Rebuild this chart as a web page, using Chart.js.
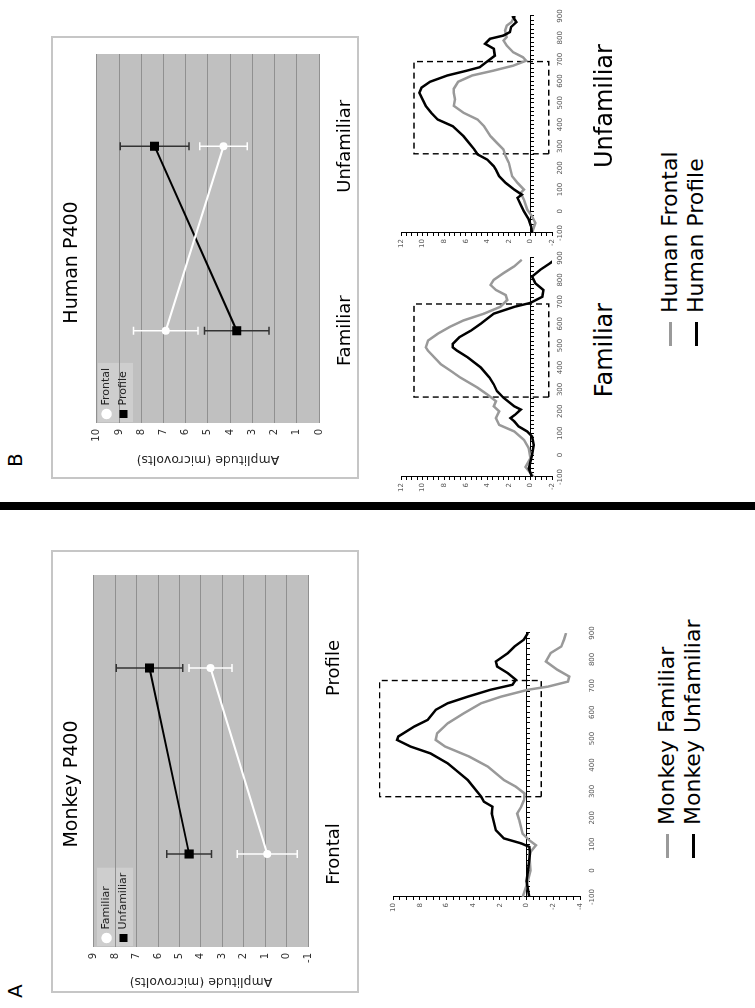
<!DOCTYPE html>
<html>
<head>
<meta charset="utf-8">
<script src="https://cdn.jsdelivr.net/npm/chart.js@4.4.1/dist/chart.umd.min.js"></script>
<style>
html,body{margin:0;padding:0;background:#fff;width:755px;height:1008px;overflow:hidden;}
#stage{position:absolute;left:0;top:0;width:1008px;height:755px;transform-origin:0 0;transform:translate(0,1008px) rotate(-90deg);font-family:"DejaVu Sans",sans-serif;color:#000;}
canvas{position:absolute;}
.box{position:absolute;border:2px solid #c6c6c6;box-sizing:border-box;pointer-events:none;}
.bar{position:absolute;background:#000;}
.tag{position:absolute;font-size:20px;line-height:24px;}
.cat{position:absolute;font-size:24px;line-height:28px;white-space:nowrap;transform:translateX(-50%);}
.leg{position:absolute;font-size:22px;line-height:26px;white-space:nowrap;display:flex;align-items:center;}
.ln{display:inline-block;width:24px;height:3px;margin-right:9px;}
</style>
</head>
<body>
<div id="stage">
  <canvas id="cA" width="443" height="308" style="left:15px;top:51px"></canvas>
  <div class="box" style="left:15px;top:51px;width:443px;height:308px"></div>
  <canvas id="cB" width="443" height="308" style="left:529px;top:51px"></canvas>
  <div class="box" style="left:529px;top:51px;width:443px;height:308px"></div>
  <canvas id="cM" width="310" height="240" style="left:81px;top:370px"></canvas>
  <canvas id="cHF" width="262" height="190" style="left:503px;top:378px"></canvas>
  <canvas id="cHU" width="261" height="190" style="left:747px;top:378px"></canvas>
  <div class="bar" style="left:498px;top:0;width:8px;height:755px"></div>
  <div class="tag" style="left:10px;top:3px">A</div>
  <div class="tag" style="left:541px;top:3px">B</div>
  <div class="cat" style="left:658px;top:590px">Familiar</div>
  <div class="cat" style="left:902px;top:590px">Unfamiliar</div>
  <div class="leg" style="left:150px;top:654px"><span class="ln" style="background:#9a9a9a"></span>Monkey Familiar</div>
  <div class="leg" style="left:150px;top:680px"><span class="ln" style="background:#000"></span>Monkey Unfamiliar</div>
  <div class="leg" style="left:662px;top:657px"><span class="ln" style="background:#9a9a9a"></span>Human Frontal</div>
  <div class="leg" style="left:662px;top:683px"><span class="ln" style="background:#000"></span>Human Profile</div>
</div>
<script>
// ---------- Panel A: Monkey P400 ----------
const monkeyCategories = ['Frontal', 'Profile'];
const monkeyFamiliarMean = [0.9, 3.55];
const monkeyFamiliarErr = [1.4, 1.0];
const monkeyUnfamiliarMean = [4.55, 6.4];
const monkeyUnfamiliarErr = [1.05, 1.55];
const monkeyAmpMin = -1, monkeyAmpMax = 9;

// ---------- Panel B: Human P400 ----------
const humanCategories = ['Familiar', 'Unfamiliar'];
const humanFrontalMean = [6.9, 4.3];
const humanFrontalErr = [1.45, 1.07];
const humanProfileMean = [3.7, 7.4];
const humanProfileErr = [1.45, 1.55];
const humanAmpMin = 0, humanAmpMax = 10;

// ---------- ERP waveforms (time ms, amplitude uV) ----------
const monkeyUnfTime = [-100,-40,0,65,90,103,122,153,216,242,261,280,343,381,406,444,470,495,508,546,571,609,634,659,685,704,723,748,773,792,824,849,875,900];
const monkeyUnfAmp  = [-0.2,0,-0.1,-0.25,-0.2,0.4,1.7,2.3,2.6,2.55,3.2,3.4,4.4,5.3,5.9,7.2,8.7,9.7,9.6,8.4,7.4,6.8,5.9,4.4,2.7,1.05,0.8,1.4,2.2,2.3,1.4,0.9,0.2,-0.1];
const monkeyFamTime = [-100,-40,0,65,96,115,140,191,216,242,267,292,318,343,394,432,470,495,520,558,596,634,659,685,697,716,735,761,792,824,849,875,900];
const monkeyFamAmp  = [0.3,-0.1,-0.3,-0.2,-0.7,-0.2,0.3,0.55,0.7,0.4,0.2,0.15,0.8,1.7,2.9,4.3,6.1,6.8,6.7,5.9,4.7,3.4,1.9,-0.1,-1.6,-3.1,-3.2,-2.3,-1.45,-1.8,-2.6,-2.8,-2.95];
const monkeyBoxTime = [280, 280, 720, 720, 280];
const monkeyBoxAmp  = [-1.1, 11, 11, -1.1, -1.1];

const humanFamProfTime = [-100,-62,0,46,85,108,131,154,169,185,208,223,262,292,323,354,400,446,477,492,508,538,569,600,623,646,677,695,723,754,785,815,846,877,900];
const humanFamProfAmp  = [-0.15,0.15,-0.15,-0.3,-0.15,0.3,1.1,1.5,1.85,1.4,0.9,1.5,2.5,3.1,3.4,3.8,4.6,5.8,6.8,7.2,7.2,6.6,5.5,4.6,4.0,3.4,1.5,0,-1.1,-1.2,-0.45,-0.15,-0.9,-1.85,-2.45];
const humanFamFrontTime = [-100,-54,-15,31,69,108,138,169,200,223,246,277,308,354,385,415,446,477,492,523,554,585,615,646,677,708,731,754,777,800,831,862,892];
const humanFamFrontAmp  = [-0.3,0.45,0,0.15,0.6,1.5,2.9,3.2,2.9,3.4,3.2,4.0,4.9,6.5,7.4,8.3,8.9,9.5,9.7,9.5,8.6,7.5,6.2,4.3,2.8,2.15,2.3,3.2,3.7,3.4,2.5,1.5,0.8];
const humanUnfProfTime = [-100,-69,-38,0,31,62,77,100,131,162,192,208,238,262,285,315,346,392,423,454,485,515,546,570,597,626,648,664,689,717,749,772,795,810,826,849,872,895,900];
const humanUnfProfAmp  = [-0.15,-0.05,0.15,0.6,0.9,1.2,0.8,1.5,2.3,2.9,3.2,3.4,4.0,4.9,5.2,5.7,6.2,7.2,8.6,9.2,9.7,10.0,10.3,10.1,9.3,7.7,5.9,4.7,4.05,3.3,3.4,4.2,3.75,2.5,1.9,1.8,1.3,1.6,1.4];
const humanUnfFrontTime = [-100,-54,-23,8,54,85,100,131,162,223,254,285,315,346,392,423,454,486,516,546,565,597,626,648,671,694,710,733,764,787,803,833,856,872,887];
const humanUnfFrontAmp  = [-0.15,-0.45,-0.15,0.3,0.6,0.9,0.6,1.2,1.7,2.0,2.3,2.5,3.1,3.7,4.3,4.9,6.2,7.1,7.0,7.1,7.1,6.7,5.4,3.45,1.6,0.4,0.7,1.6,2.2,2.5,2.2,2.35,2.2,1.75,1.6];
const humanBoxTime = [265, 265, 690, 690, 265];
const humanBoxAmp  = [-1.7, 10.8, 10.8, -1.7, -1.7];

const erpTimeMin = -100, erpTimeMax = 900;
const monkeyErpMin = -4, monkeyErpMax = 10;
const humanErpMin = -2, humanErpMax = 12;

// ---------- helpers ----------
const FONT = '"DejaVu Sans", sans-serif';
Chart.defaults.font.family = FONT;
Chart.defaults.color = '#222';

const plotBg = {
  id: 'plotBg',
  beforeDraw(chart, args, opts) {
    if (!opts || !opts.color) return;
    const {ctx, chartArea: a} = chart;
    ctx.save();
    ctx.fillStyle = opts.color;
    ctx.fillRect(a.left, a.top, a.right - a.left, a.bottom - a.top);
    const lg = chart.legend;
    if (opts.legendColor && lg && lg.legendHitBoxes && lg.legendHitBoxes.length) {
      let x0 = Infinity, y0 = Infinity, x1 = -Infinity, y1 = -Infinity;
      lg.legendHitBoxes.forEach(h => {
        x0 = Math.min(x0, h.left); y0 = Math.min(y0, h.top);
        x1 = Math.max(x1, h.left + h.width); y1 = Math.max(y1, h.top + h.height);
      });
      x0 = a.left + 1; y0 = Math.max(a.top + 1, y0 - 4);
      ctx.fillStyle = opts.legendColor;
      ctx.fillRect(x0, y0, x1 + 5 - x0, y1 + 4 - y0);
    }
    ctx.restore();
  }
};
Chart.register(plotBg);

function errData(cats, mean, err) {
  const out = [];
  cats.forEach((c, i) => {
    out.push({x: c, y: mean[i] - err[i]}, {x: c, y: mean[i] + err[i]}, {x: c, y: null});
  });
  return out;
}
function xy(t, a) { return t.map((v, i) => ({x: v, y: a[i]})); }

function meanChart(id, cats, whiteName, whiteMean, whiteErr, blackName, blackMean, blackErr, yMin, yMax, title, lay) {
  new Chart(document.getElementById(id), {
    type: 'line',
    data: {
      labels: cats,
      datasets: [
        {label: whiteName, data: whiteMean, borderColor: '#fff', backgroundColor: '#fff', borderWidth: 2,
         pointStyle: 'circle', pointRadius: 3, pointBorderColor: '#fff', pointBackgroundColor: '#fff', order: 0},
        {label: blackName, data: blackMean, borderColor: '#000', backgroundColor: '#000', borderWidth: 2,
         pointStyle: 'rect', pointRadius: 5, pointBorderColor: '#000', pointBackgroundColor: '#000', order: 0},
        {label: 'err-w', data: errData(cats, whiteMean, whiteErr), borderColor: '#fff', borderWidth: 1.5,
         pointStyle: 'line', pointRadius: 4, pointBorderColor: '#fff', pointBorderWidth: 1.5, order: 5},
        {label: 'err-b', data: errData(cats, blackMean, blackErr), borderColor: '#333', borderWidth: 1.5,
         pointStyle: 'line', pointRadius: 4, pointBorderColor: '#333', pointBorderWidth: 1.5, order: 5}
      ]
    },
    options: {
      responsive: false, animation: false,
      layout: {padding: {left: lay.padL, right: lay.padR, top: 0, bottom: 0}},
      plugins: {
        plotBg: {color: '#c0c0c0', legendColor: '#cecece'},
        tooltip: {enabled: false},
        title: {display: true, text: title, color: '#000', font: {size: 19, weight: 'normal'},
                padding: {top: 10, bottom: lay.titleBottom}},
        legend: {position: 'chartArea', align: 'start',
                 title: {display: true, text: ' ', font: {size: 10}, padding: {top: lay.legTop, bottom: 0}},
                 labels: {usePointStyle: true, boxWidth: 6, boxHeight: 6, padding: 6, color: '#222',
                          font: {size: 11}, filter: (it) => it.datasetIndex < 2}}
      },
      scales: {
        x: {offset: true, grid: {display: false, drawTicks: false}, border: {display: false},
            ticks: {font: {size: 18}, color: '#000', padding: lay.xPad},
            afterFit(s) { s.height = lay.xH; }},
        y: {min: yMin, max: yMax, grid: {color: '#909090', lineWidth: 1, drawTicks: false},
            border: {display: false},
            ticks: {stepSize: 1, font: {size: 10}, color: '#333', padding: 6},
            title: {display: true, text: 'Amplitude (microvolts)', color: '#222', font: {size: 12.5},
                    padding: {top: 4, bottom: 0}},
            afterFit(s) { s.width = lay.yW; }}
      }
    }
  });
}

function erpChart(id, grey, black, boxT, boxA, yMin, yMax, lay) {
  new Chart(document.getElementById(id), {
    type: 'line',
    data: {
      datasets: [
        {data: xy(black.t, black.a), borderColor: '#000', borderWidth: 2.5, pointRadius: 0, tension: 0},
        {data: xy(grey.t, grey.a), borderColor: '#999', borderWidth: 2.5, pointRadius: 0, tension: 0},
        {data: xy(boxT, boxA), borderColor: '#000', borderWidth: 1.4, borderDash: [6, 4], pointRadius: 0, tension: 0, clip: false}
      ]
    },
    options: {
      responsive: false, animation: false,
      layout: {padding: {left: 0, right: lay.padR, top: lay.padT, bottom: 0}},
      plugins: {legend: {display: false}, tooltip: {enabled: false}},
      scales: {
        x: {type: 'linear', min: erpTimeMin, max: erpTimeMax, position: {y: 0},
            ticks: {display: false, stepSize: 20}, grid: {drawOnChartArea: false, color: '#000', tickLength: 3},
            border: {color: '#000', width: 1}},
        xl: {type: 'linear', min: erpTimeMin, max: erpTimeMax, position: 'bottom',
             ticks: {stepSize: 100, autoSkip: false, maxRotation: 0, font: {size: 7}, color: '#555', padding: lay.tPad},
             grid: {display: false, drawTicks: false}, border: {display: false},
             afterFit(s) { s.height = lay.xH; }},
        y: {min: yMin, max: yMax,
            ticks: {stepSize: 0.5, autoSkip: false, font: {size: 7}, color: '#555', padding: 3,
                    callback: (v) => (Math.abs(v % 2) < 1e-9 ? String(Math.round(v)) : '')},
            grid: {drawOnChartArea: false, color: '#000', tickLength: 3},
            border: {color: '#000', width: 1},
            afterFit(s) { s.width = lay.yW; }}
      }
    }
  });
}

meanChart('cA', monkeyCategories, 'Familiar', monkeyFamiliarMean, monkeyFamiliarErr,
          'Unfamiliar', monkeyUnfamiliarMean, monkeyUnfamiliarErr, monkeyAmpMin, monkeyAmpMax, 'Monkey P400',
          {padL: 0, padR: 25, yW: 46, xH: 51, xPad: 16, titleBottom: 10, legTop: 32});
meanChart('cB', humanCategories, 'Frontal', humanFrontalMean, humanFrontalErr,
          'Profile', humanProfileMean, humanProfileErr, humanAmpMin, humanAmpMax, 'Human P400',
          {padL: 8, padR: 18, yW: 48, xH: 40, xPad: 16, titleBottom: 13, legTop: 32});

erpChart('cM', {t: monkeyFamTime, a: monkeyFamAmp}, {t: monkeyUnfTime, a: monkeyUnfAmp},
         monkeyBoxTime, monkeyBoxAmp, monkeyErpMin, monkeyErpMax, {padR: 16, padT: 23, yW: 30, xH: 30, tPad: 8});
erpChart('cHF', {t: humanFamFrontTime, a: humanFamFrontAmp}, {t: humanFamProfTime, a: humanFamProfAmp},
         humanBoxTime, humanBoxAmp, humanErpMin, humanErpMax, {padR: 15, padT: 23, yW: 28, xH: 16, tPad: 4});
erpChart('cHU', {t: humanUnfFrontTime, a: humanUnfFrontAmp}, {t: humanUnfProfTime, a: humanUnfProfAmp},
         humanBoxTime, humanBoxAmp, humanErpMin, humanErpMax, {padR: 16, padT: 23, yW: 28, xH: 16, tPad: 4});
</script>
</body>
</html>
